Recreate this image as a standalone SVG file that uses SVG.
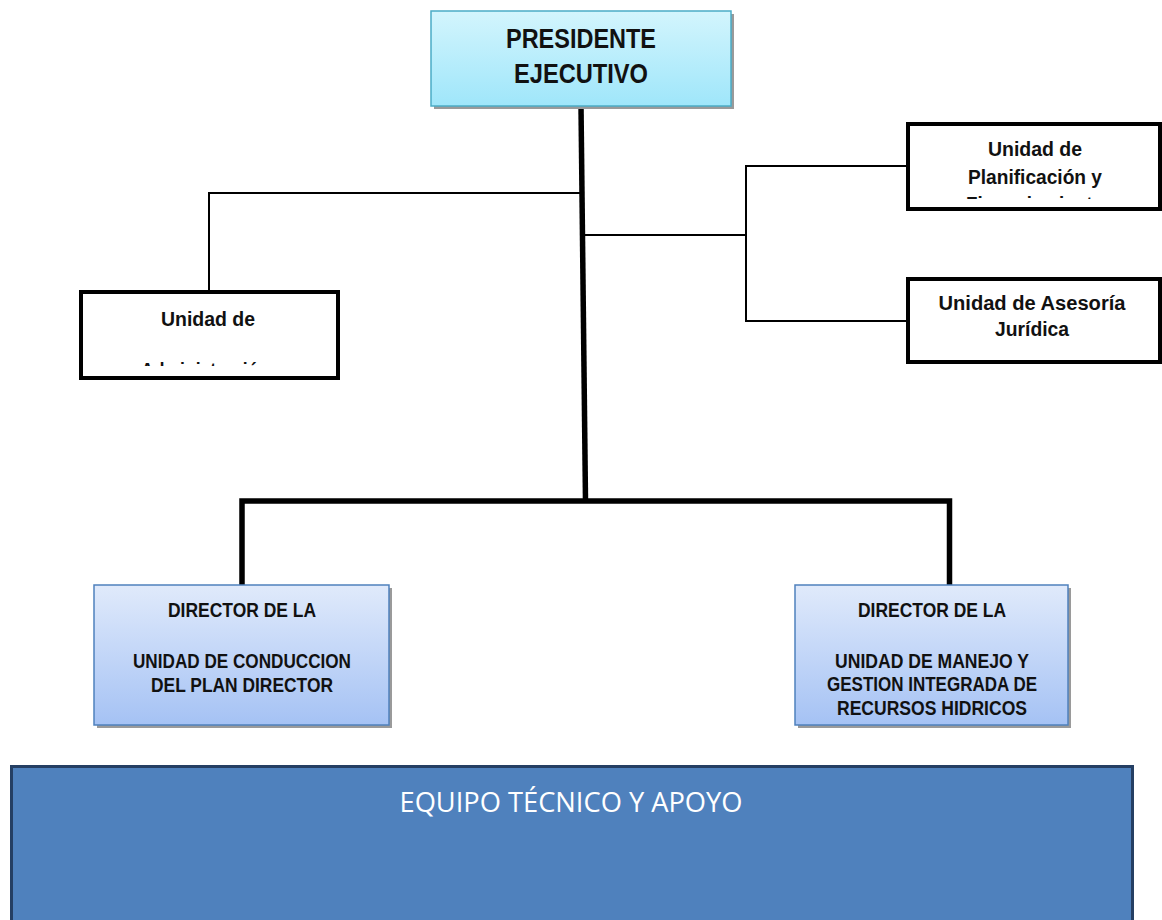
<svg xmlns="http://www.w3.org/2000/svg" width="1162" height="920" viewBox="0 0 1162 920">
  <style>
    .lbl { font-family: "Liberation Sans", Arial, sans-serif; font-weight: bold; fill: #111; text-anchor: middle; }
    .thin { stroke: #000; stroke-width: 2; fill: none; }
    .thick { stroke: #000; stroke-width: 5.5; fill: none; }
    .unit { fill: #fff; stroke: #000; stroke-width: 4; }
    .shadow { fill: #9a9a9a; }
    .dir { fill: url(#gDir); stroke: #4f81bd; stroke-width: 1.5; }
  </style>
  <defs>
    <linearGradient id="gPres" x1="0" y1="0" x2="0" y2="1">
      <stop offset="0" stop-color="#d3f5fd"/>
      <stop offset="1" stop-color="#9fe6fa"/>
    </linearGradient>
    <linearGradient id="gDir" x1="0" y1="0" x2="0" y2="1">
      <stop offset="0" stop-color="#e0eafb"/>
      <stop offset="1" stop-color="#a5c2f4"/>
    </linearGradient>
    <clipPath id="clipPlan"><rect x="910" y="126" width="250" height="73"/></clipPath>
    <clipPath id="clipAdm"><rect x="82" y="294" width="256" height="72"/></clipPath>
  </defs>

  <g id="connectors">
    <path class="thick" d="M581 106 L585.5 501"/>
    <path class="thick" d="M242 585 L242 501 L949.5 501 L949.5 585"/>
    <path class="thin" d="M580 193 L209 193 L209 292"/>
    <path class="thin" d="M583 235 L746 235"/>
    <path class="thin" d="M907 166 L746 166 L746 321 L907 321"/>
  </g>

  <g id="presidente">
    <rect class="shadow" x="434" y="14" width="300" height="95"/>
    <rect x="431" y="11" width="300" height="95" fill="url(#gPres)" stroke="#4bacc6" stroke-width="1.5"/>
    <text class="lbl" x="581" y="48" font-size="27" textLength="150" lengthAdjust="spacingAndGlyphs">PRESIDENTE</text>
    <text class="lbl" x="581" y="83" font-size="27" textLength="134" lengthAdjust="spacingAndGlyphs">EJECUTIVO</text>
  </g>

  <g id="planificacion">
    <rect class="unit" x="908" y="124" width="252" height="85"/>
    <g clip-path="url(#clipPlan)">
      <text class="lbl" x="1035" y="156" font-size="20" textLength="94" lengthAdjust="spacingAndGlyphs">Unidad de</text>
      <text class="lbl" x="1035" y="184" font-size="20" textLength="134" lengthAdjust="spacingAndGlyphs">Planificación y</text>
      <text class="lbl" x="1035" y="211" font-size="20" textLength="138" lengthAdjust="spacingAndGlyphs">Financiamiento</text>
    </g>
  </g>

  <g id="asesoria">
    <rect class="unit" x="908" y="279" width="252" height="83"/>
    <text class="lbl" x="1032" y="310" font-size="20" textLength="187" lengthAdjust="spacingAndGlyphs">Unidad de Asesoría</text>
    <text class="lbl" x="1032" y="336" font-size="20" textLength="74" lengthAdjust="spacingAndGlyphs">Jurídica</text>
  </g>

  <g id="administracion">
    <rect class="unit" x="81" y="292" width="257" height="86"/>
    <g clip-path="url(#clipAdm)">
      <text class="lbl" x="208" y="326" font-size="20" textLength="94" lengthAdjust="spacingAndGlyphs">Unidad de</text>
      <text class="lbl" x="205" y="377" font-size="20" textLength="128" lengthAdjust="spacingAndGlyphs">Administración</text>
    </g>
  </g>

  <g id="director-conduccion">
    <rect class="shadow" x="97" y="588" width="295" height="140"/>
    <rect class="dir" x="94" y="585" width="295" height="140"/>
    <text class="lbl" x="242" y="617" font-size="20.5" textLength="148" lengthAdjust="spacingAndGlyphs">DIRECTOR DE LA</text>
    <text class="lbl" x="242" y="668" font-size="20.5" textLength="218" lengthAdjust="spacingAndGlyphs">UNIDAD DE CONDUCCION</text>
    <text class="lbl" x="242" y="692" font-size="20.5" textLength="182" lengthAdjust="spacingAndGlyphs">DEL PLAN DIRECTOR</text>
  </g>

  <g id="director-manejo">
    <rect class="shadow" x="798" y="588" width="273" height="140"/>
    <rect class="dir" x="795" y="585" width="273" height="140"/>
    <text class="lbl" x="932" y="617" font-size="20.5" textLength="148" lengthAdjust="spacingAndGlyphs">DIRECTOR DE LA</text>
    <text class="lbl" x="932" y="668" font-size="20.5" textLength="194" lengthAdjust="spacingAndGlyphs">UNIDAD DE MANEJO Y</text>
    <text class="lbl" x="932" y="691" font-size="20.5" textLength="210" lengthAdjust="spacingAndGlyphs">GESTION INTEGRADA DE</text>
    <text class="lbl" x="932" y="715" font-size="20.5" textLength="190" lengthAdjust="spacingAndGlyphs">RECURSOS HIDRICOS</text>
  </g>

  <g id="equipo">
    <rect x="11.5" y="766.5" width="1121" height="160" fill="#4f81bd" stroke="#253f63" stroke-width="3"/>
    <text x="571" y="812" font-family="'Open Sans', 'Noto Sans', sans-serif" font-size="27" fill="#fff" text-anchor="middle" textLength="343" lengthAdjust="spacingAndGlyphs">EQUIPO TÉCNICO Y APOYO</text>
  </g>
</svg>
